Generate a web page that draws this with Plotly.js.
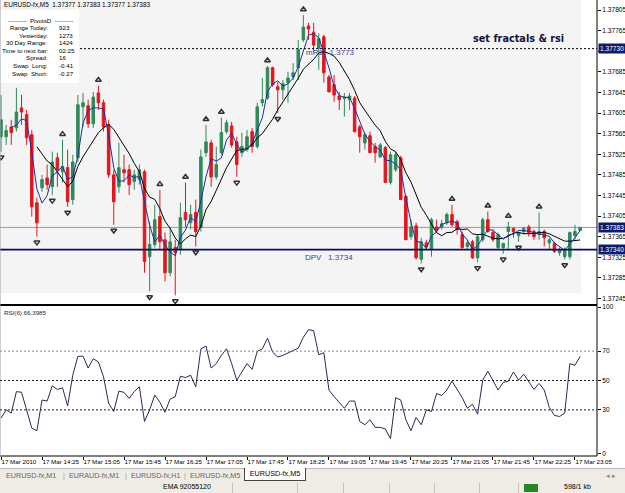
<!DOCTYPE html>
<html><head><meta charset="utf-8">
<script src="https://cdn.plot.ly/plotly-3.0.1.min.js"></script>
<style>
html,body{margin:0;padding:0;background:#fff;}
#wrap{position:relative;width:625px;height:493px;overflow:hidden;font-family:"Liberation Sans",Arial,sans-serif;}
#chart{position:absolute;left:0;top:0;width:625px;height:468px;}
#tabs{position:absolute;left:0;top:468px;width:625px;height:14px;background:#eeece4;border-top:1px solid #b8b8b8;box-sizing:border-box;font-size:7.2px;color:#666;}
#tabs span{position:absolute;top:2px;white-space:nowrap;}
#tabs .sep{color:#999;}
#active{position:absolute;left:244px;top:-1px;width:62px;height:13px;background:#fff;border:1px solid #444;border-top:none;box-sizing:border-box;color:#000;text-align:center;font-size:7.2px;line-height:12px;}
#status{position:absolute;left:0;top:482px;width:625px;height:11px;background:#eeece4;font-size:7px;color:#000;}
#status .v{position:absolute;top:1px;width:1px;height:10px;background:#c4c4bc;}
#status span{position:absolute;top:1px;white-space:nowrap;}
</style></head>
<body><div id="wrap"><div id="chart"></div>
<div id="tabs">
<span style="left:6px">EURUSD-fx,M1</span><span class="sep" style="left:63px">|</span>
<span style="left:69px">EURAUD-fx,M1</span><span class="sep" style="left:125px">|</span>
<span style="left:131px">EURUSD-fx,H1</span><span class="sep" style="left:184px">|</span>
<span style="left:190px">EURUSD-fx,M5</span>
<div id="active">EURUSD-fx,M5</div>
<span style="left:606px;color:#888">&#9666; &#9656;</span>
</div>
<div id="status">
<span style="left:163px">EMA 92055120</span>
<div class="v" style="left:232px"></div><div class="v" style="left:297px"></div><div class="v" style="left:343px"></div>
<div class="v" style="left:389px"></div><div class="v" style="left:434px"></div><div class="v" style="left:479px"></div><div class="v" style="left:518px"></div>
<div style="position:absolute;left:524px;top:2px;width:14px;height:8px;background:repeating-linear-gradient(90deg,#2a8a2a 0 1px,#c03020 1px 2px);"></div>
<span style="left:564px">598/1 kb</span>
</div>
</div>
<script>
// ---- data ----
const barIndex = Array.from({length:114},(_,i)=>i);
const openP = [1.37559,1.37559,1.37578,1.37576,1.37615,1.37602,1.37563,1.37431,1.37460,1.37479,
1.37462,1.37518,1.37491,1.37499,1.37437,1.37518,1.37617,1.37619,1.37584,1.37644,
1.37625,1.37582,1.37485,1.37462,1.37495,1.37495,1.37472,1.37476,1.37491,1.37326,
1.37350,1.37404,1.37359,1.37295,1.37344,1.37340,1.37412,1.37392,1.37412,1.37383,
1.37528,1.37547,1.37481,1.37528,1.37569,1.37580,1.37549,1.37528,1.37534,1.37569,
1.37540,1.37625,1.37634,1.37693,1.37656,1.37650,1.37664,1.37675,1.37693,1.37747,
1.37774,1.37762,1.37731,1.37753,1.37675,1.37660,1.37638,1.37633,1.37631,1.37634,
1.37578,1.37547,1.37561,1.37540,1.37520,1.37538,1.37470,1.37495,1.37518,1.37443,
1.37365,1.37386,1.37321,1.37353,1.37340,1.37384,1.37383,1.37392,1.37408,1.37394,
1.37369,1.37346,1.37355,1.37324,1.37359,1.37398,1.37373,1.37344,1.37344,1.37375,
1.37381,1.37367,1.37375,1.37384,1.37375,1.37369,1.37375,1.37353,1.37352,1.37334,
1.37326,1.37326,1.37367,1.37377];
const highP = [1.37640,1.37582,1.37592,1.37654,1.37640,1.37611,1.37572,1.37441,1.37485,1.37505,
1.37530,1.37528,1.37553,1.37534,1.37524,1.37640,1.37644,1.37631,1.37646,1.37658,
1.37631,1.37592,1.37495,1.37547,1.37524,1.37505,1.37495,1.37505,1.37495,1.37394,
1.37427,1.37456,1.37373,1.37384,1.37359,1.37431,1.37470,1.37427,1.37437,1.37534,
1.37582,1.37553,1.37540,1.37596,1.37592,1.37588,1.37559,1.37567,1.37572,1.37576,
1.37625,1.37673,1.37696,1.37695,1.37665,1.37669,1.37685,1.37702,1.37747,1.37795,
1.37780,1.37780,1.37760,1.37757,1.37679,1.37679,1.37646,1.37644,1.37644,1.37638,
1.37582,1.37567,1.37569,1.37547,1.37547,1.37541,1.37530,1.37530,1.37522,1.37446,
1.37398,1.37392,1.37363,1.37359,1.37402,1.37398,1.37398,1.37412,1.37427,1.37398,
1.37375,1.37359,1.37359,1.37369,1.37402,1.37414,1.37379,1.37373,1.37353,1.37394,
1.37383,1.37375,1.37384,1.37388,1.37379,1.37412,1.37379,1.37363,1.37355,1.37344,
1.37344,1.37375,1.37388,1.37383];
const lowP = [1.37530,1.37543,1.37543,1.37569,1.37582,1.37543,1.37404,1.37365,1.37452,1.37456,
1.37446,1.37462,1.37470,1.37423,1.37427,1.37510,1.37578,1.37576,1.37576,1.37611,
1.37569,1.37479,1.37388,1.37450,1.37470,1.37446,1.37456,1.37466,1.37295,1.37259,
1.37344,1.37340,1.37278,1.37288,1.37251,1.37330,1.37384,1.37379,1.37346,1.37375,
1.37520,1.37462,1.37476,1.37524,1.37565,1.37538,1.37481,1.37520,1.37530,1.37528,
1.37536,1.37617,1.37631,1.37656,1.37605,1.37631,1.37625,1.37669,1.37669,1.37743,
1.37747,1.37724,1.37689,1.37664,1.37646,1.37627,1.37611,1.37598,1.37611,1.37567,
1.37528,1.37534,1.37528,1.37509,1.37518,1.37470,1.37466,1.37491,1.37437,1.37359,
1.37359,1.37321,1.37313,1.37340,1.37326,1.37373,1.37379,1.37388,1.37384,1.37369,
1.37340,1.37340,1.37322,1.37315,1.37355,1.37373,1.37355,1.37340,1.37332,1.37340,
1.37363,1.37355,1.37369,1.37365,1.37359,1.37359,1.37346,1.37340,1.37334,1.37328,
1.37321,1.37321,1.37359,1.37377];
const closeP = [1.37592,1.37571,1.37567,1.37607,1.37607,1.37557,1.37423,1.37392,1.37476,1.37466,
1.37510,1.37495,1.37501,1.37433,1.37510,1.37621,1.37625,1.37584,1.37636,1.37625,
1.37578,1.37485,1.37433,1.37499,1.37489,1.37466,1.37485,1.37495,1.37317,1.37350,
1.37398,1.37355,1.37295,1.37355,1.37334,1.37402,1.37398,1.37408,1.37375,1.37520,
1.37549,1.37481,1.37505,1.37567,1.37586,1.37543,1.37505,1.37540,1.37559,1.37540,
1.37617,1.37631,1.37693,1.37660,1.37650,1.37662,1.37673,1.37683,1.37728,1.37772,
1.37768,1.37737,1.37749,1.37683,1.37646,1.37640,1.37631,1.37636,1.37638,1.37569,
1.37559,1.37563,1.37528,1.37528,1.37543,1.37470,1.37524,1.37524,1.37437,1.37359,
1.37384,1.37324,1.37355,1.37346,1.37398,1.37379,1.37390,1.37408,1.37388,1.37379,
1.37344,1.37353,1.37324,1.37365,1.37398,1.37375,1.37359,1.37369,1.37352,1.37384,
1.37375,1.37373,1.37381,1.37373,1.37365,1.37375,1.37363,1.37359,1.37336,1.37340,
1.37340,1.37373,1.37375,1.37383];
const rsiValues = [24.4,30,27.8,42.4,42,30,17.6,15.8,36.7,36,
46.4,43.9,45,32.7,53.6,66.4,66.6,58.5,64.8,62.6,
52.5,34.5,28.9,42.8,41.9,37.8,42.4,45.7,22.1,30,
40.1,35.2,28.4,37.4,39,52.9,52,53.6,45.7,71.6,
73.4,58.5,61.5,67.1,71.6,61.5,50.2,55.8,61.5,57.6,
69.8,71.6,78.8,69.3,66,67.1,68.7,70.4,72,79.4,
84.6,83.9,67.5,68.9,43.5,39,34.9,31.1,36,36,
22.1,19.9,23.3,18.1,18.1,17,10.4,38.3,36.7,23.3,
15.8,24.8,19.9,30,28.9,41.2,39.7,43.5,49.6,43.9,
38.3,31.1,33.8,27.1,50.2,56.3,50.2,43.5,48.7,49.6,
55.8,50.2,54.3,49.1,43.9,48,43.5,31.6,26.2,25.5,
27.8,61.5,60.3,66.4];
const fractalUpIdx = [12,19,31,36,40,43,52,59,88,95,99,105];
const fractalDownIdx = [0,7,10,13,22,29,34,38,46,54,82,93,98,101,110];
const tickIdx = [0,8,16,24,32,40,48,56,64,72,80,88,96,104,112];
const tickText = ['17 Mar 2010','17 Mar 14:25','17 Mar 15:05','17 Mar 15:45','17 Mar 16:25','17 Mar 17:05','17 Mar 17:45','17 Mar 18:25','17 Mar 19:05','17 Mar 19:45','17 Mar 20:25','17 Mar 21:05','17 Mar 21:45','17 Mar 22:25','17 Mar 23:05'];
const priceTicks = [1.37245,1.37285,1.37325,1.37365,1.37405,1.37445,1.37485,1.37525,1.37565,1.37605,1.37645,1.37685,1.37725,1.37765,1.37805];
const rsiTicks = [0,30,50,70,100];
const rsiLevels = [70,50,30];
const levelR1 = 1.37730, levelBid = 1.37383, levelDPV = 1.37340;
const infoLabels = ['Range Today:','Yesterday:','30 Day Range:','Time to next bar:','Spread:','Swap  Long:','Swap  Short:'];
const infoValues = ['923','1273','1424','02:25','16','-0.41','-0.27'];
const fastPeriod = 3, slowPeriod = 8;

// ---- indicators derived from the closes ----
function sma(a,n){return a.map((v,i)=> i<n-1?null: a.slice(i-n+1,i+1).reduce((s,x)=>s+x,0)/n);}
const maFast = sma(closeP,fastPeriod), maSlow = sma(closeP,slowPeriod);

const PH = 456, PW = 597;
const py = p => 1 - p/PH, px = p => p/PW;
const fOff = 0.00011;
const F = "Liberation Sans, Arial, sans-serif";
// the 1.37725 tick label sits under the 1.37730 level box in the reference
const priceTickText = priceTicks.map(v => Math.abs(v-levelR1) < 0.0001 ? '' : v.toFixed(5));

const traces = [
 {type:'candlestick', x:barIndex, open:openP, high:highP, low:lowP, close:closeP, xaxis:'x', yaxis:'y',
  increasing:{line:{color:'#2f8a59',width:1},fillcolor:'#2f8a59'},
  decreasing:{line:{color:'#e3161f',width:1},fillcolor:'#e3161f'},
  whiskerwidth:0, hoverinfo:'skip'},
 {type:'scatter', mode:'lines', x:barIndex, y:maSlow, line:{color:'#000000',width:1}, xaxis:'x', yaxis:'y', hoverinfo:'skip'},
 {type:'scatter', mode:'lines', x:barIndex, y:maFast, line:{color:'#1f2f9e',width:1}, xaxis:'x', yaxis:'y', hoverinfo:'skip'},
 {type:'scatter', mode:'markers', x:fractalUpIdx, y:fractalUpIdx.map(i=>highP[i]+fOff), xaxis:'x', yaxis:'y',
  marker:{symbol:'triangle-up-open', size:5, color:'#303030', line:{width:1.5,color:'#303030'}}, hoverinfo:'skip'},
 {type:'scatter', mode:'markers', x:fractalDownIdx, y:fractalDownIdx.map(i=>lowP[i]-fOff), xaxis:'x', yaxis:'y',
  marker:{symbol:'triangle-down-open', size:5, color:'#303030', line:{width:1.5,color:'#303030'}}, hoverinfo:'skip'},
 {type:'scatter', mode:'lines', x:barIndex, y:rsiValues, line:{color:'#2a2a55',width:1}, xaxis:'x', yaxis:'y2', hoverinfo:'skip'}
];

const shapes = [
 {type:'rect', xref:'paper', yref:'paper', x0:0, x1:px(581), y0:py(293), y1:1, fillcolor:'#f4f4f4', line:{width:0}, layer:'below'},
 {type:'line', xref:'paper', yref:'y', x0:0, x1:1, y0:levelBid, y1:levelBid, line:{color:'#9a9a9a',width:1}, layer:'below'},
 {type:'line', xref:'paper', yref:'y', x0:0, x1:1, y0:levelDPV, y1:levelDPV, line:{color:'#0a0a5c',width:1.8}, layer:'above'},
 {type:'line', xref:'paper', yref:'y', x0:0, x1:1, y0:levelR1, y1:levelR1, line:{color:'#000',width:1,dash:'2px,2px'}, layer:'above'},
 {type:'rect', xref:'paper', yref:'paper', x0:0, x1:px(79), y0:py(83), y1:py(10), fillcolor:'#ffffff', line:{width:0}, layer:'above'},
 {type:'line', xref:'paper', yref:'paper', x0:1, x1:1, y0:0, y1:1, line:{color:'#000',width:1}},
 {type:'line', xref:'paper', yref:'paper', x0:0, x1:1, y0:py(305), y1:py(305), line:{color:'#000',width:2}},
 {type:'line', xref:'paper', yref:'paper', x0:0, x1:1, y0:0, y1:0, line:{color:'#000',width:1}},
 {type:'line', xref:'paper', yref:'paper', x0:0, x1:0, y0:0, y1:1, line:{color:'#a0a0b0',width:1}}
];
rsiLevels.forEach((v,k)=>shapes.push({type:'line', xref:'paper', yref:'y2', x0:0, x1:1, y0:v, y1:v,
  line:{color:k===0?'#888':'#222',width:1,dash:'2px,2px'}}));

const ann = [
 {xref:'paper',yref:'paper',x:px(2),y:py(5),xanchor:'left',yanchor:'middle',showarrow:false,
  text:'EURUSD-fx,M5\u00a0\u00a01.37377 1.37383 1.37377 1.37383',font:{family:F,size:6.4,color:'#000'}},
 {xref:'paper',yref:'paper',x:px(40),y:py(20),xanchor:'center',yanchor:'middle',showarrow:false,
  text:'---------  PivotsD  ---------',font:{family:F,size:6.2,color:'#000'}},
 {xref:'paper',yref:'paper',x:px(471),y:py(38),xanchor:'left',yanchor:'middle',showarrow:false,
  text:'<b>set fractals &amp; rsi</b>',font:{family:'DejaVu Sans Condensed, Liberation Sans Narrow, Arial Narrow, sans-serif',size:10.8,color:'#12123f'}},
 {xref:'paper',yref:'paper',x:px(304),y:py(52),xanchor:'left',yanchor:'middle',showarrow:false,
  text:'mR1\u00a0\u00a0 1.3773',font:{family:F,size:8,color:'#3a4690'}},
 {xref:'paper',yref:'paper',x:px(303),y:py(257),xanchor:'left',yanchor:'middle',showarrow:false,
  text:'DPV\u00a0\u00a0 1.3734',font:{family:F,size:8,color:'#3a4690'}},
 {xref:'paper',yref:'paper',x:px(2),y:py(312),xanchor:'left',yanchor:'middle',showarrow:false,
  text:'RSI(6) 66.3985',font:{family:F,size:6.2,color:'#1a1a40'}}
];
infoLabels.forEach((t,k)=>{
 const yy = py(27.5+k*7.6);
 ann.push({xref:'paper',yref:'paper',x:px(50),y:yy,xanchor:'right',yanchor:'middle',showarrow:false,text:t,font:{family:F,size:6.2,color:'#000'}});
 ann.push({xref:'paper',yref:'paper',x:px(57),y:yy,xanchor:'left',yanchor:'middle',showarrow:false,text:infoValues[k],font:{family:F,size:6.2,color:'#000'}});
});
[levelR1, levelBid, levelDPV].forEach(v=>ann.push({xref:'paper',yref:'y',x:1,y:v,xanchor:'left',yanchor:'middle',xshift:1,showarrow:false,
  text:v.toFixed(5),bgcolor:'#0c1c6a',borderpad:1,font:{family:F,size:6.6,color:'#ffffff'}}));

const layout = {
 width:625, height:468, margin:{l:0,r:28,t:0,b:12,pad:0},
 paper_bgcolor:'#ffffff', plot_bgcolor:'#ffffff', showlegend:false, dragmode:false,
 xaxis:{range:[-0.2,116.3], tickvals:tickIdx, ticktext:tickText, tickangle:0, ticks:'outside', ticklen:3, tickcolor:'#000',
   ticklabelposition:'outside right', tickfont:{family:F,size:6.2,color:'#000'}, showgrid:false, zeroline:false,
   showline:false, rangeslider:{visible:false}, anchor:'y2', fixedrange:true, automargin:false},
 yaxis:{domain:[py(305)+0.001,1], range:[1.372333,1.378244], side:'right', tickvals:priceTicks, ticktext:priceTickText,
   ticks:'outside', ticklen:3, tickcolor:'#000', tickfont:{family:F,size:6.6,color:'#000'}, showgrid:false, zeroline:false, fixedrange:true, automargin:false},
 yaxis2:{domain:[0,py(306)], range:[-1.4,100.7], side:'right', tickvals:rsiTicks, ticks:'outside', ticklen:3, tickcolor:'#000',
   tickfont:{family:F,size:6.6,color:'#000'}, showgrid:false, zeroline:false, fixedrange:true, automargin:false},
 shapes:shapes, annotations:ann
};
Plotly.newPlot('chart', traces, layout, {displayModeBar:false, staticPlot:true});
</script></body></html>
